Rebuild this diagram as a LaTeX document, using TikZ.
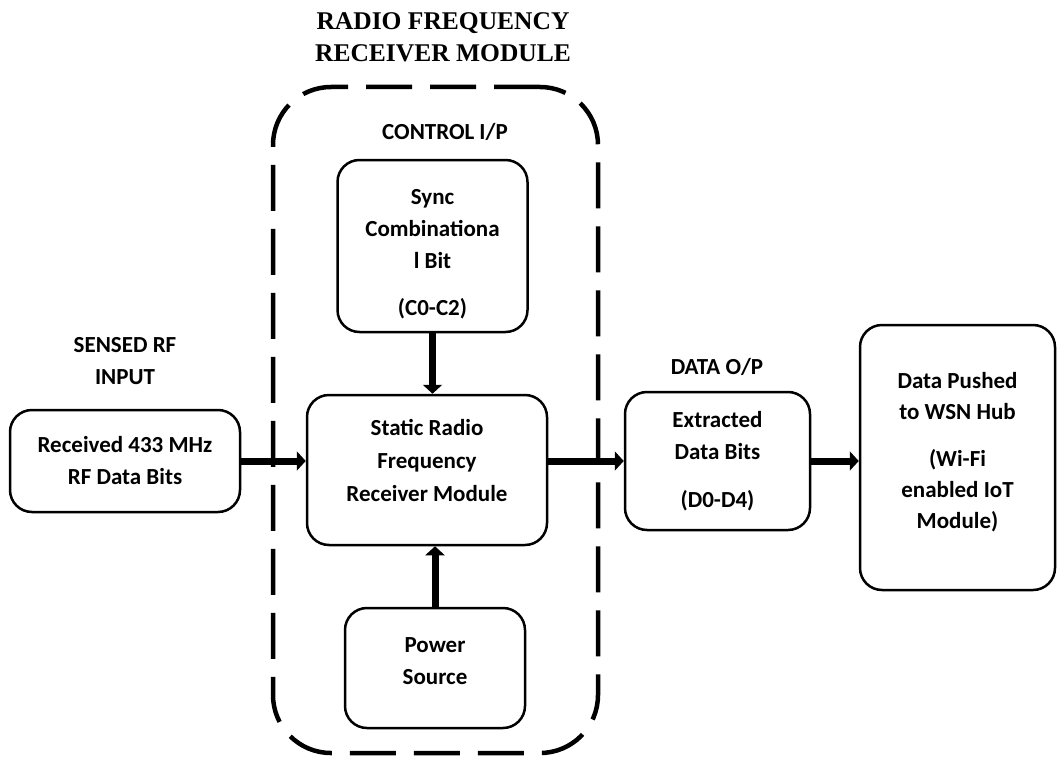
\documentclass[tikz,border=0pt]{standalone}
\usepackage{fontspec}
\setmainfont{Carlito}
\newfontfamily\titlefont{Liberation Serif}
\usetikzlibrary{arrows.meta}
\newcommand\boxfont{\fontsize{23}{32}\selectfont\bfseries}
\newcommand\bigtitle{\titlefont\fontsize{25.5}{32}\selectfont\bfseries}

\begin{document}
\begin{tikzpicture}[x=1pt,y=-1pt,
  blk/.style={draw,line width=2.5pt,rounded corners=22pt,align=center,font=\boxfont,inner sep=0pt},
  lbl/.style={align=center,font=\boxfont},
  arr/.style={line width=7pt,-{Triangle[length=9pt,width=19pt]}}]
\useasboundingbox (0,0) rectangle (1059,757);
\node [lbl,font=\bigtitle] (title) at (443,37) {RADIO FREQUENCY\\RECEIVER MODULE};
\node [draw,line width=4.5pt,dash pattern=on 46pt off 18pt,rounded corners=58pt,
  minimum width=325pt,minimum height=666pt] (rfmod) at (435.5,420) {};
\node [lbl] (ctrl) at (445,132) {CONTROL I/P};
\node [blk,minimum width=190pt,minimum height=172pt] (sync) at (432.5,246)
  {\rule{0pt}{32pt}Sync\\Combinationa\\l Bit\\[15pt](C0-C2)};
\node [blk,minimum width=240pt,minimum height=150pt] (static) at (427,470)
  {Static Radio\\[1pt]Frequency\\[1pt]Receiver Module\\[-12pt]};
\node [blk,minimum width=180pt,minimum height=120pt] (power) at (435,668)
  {Power\\Source\\[-18pt]};
\node [lbl] (sensed) at (125,361) {SENSED RF\\INPUT};
\node [blk,minimum width=230pt,minimum height=102pt] (rfin) at (125,461)
  {Received 433 MHz\\RF Data Bits};
\node [lbl] (dataop) at (717,367) {DATA O/P};
\node [blk,minimum width=185pt,minimum height=138pt] (ext) at (717.5,461)
  {Extracted\\Data Bits\\[16pt](D0-D4)};
\node [blk,minimum width=195pt,minimum height=265pt,font=\fontsize{23}{31}\selectfont\bfseries] (hub) at (957.5,457.5)
  {Data Pushed\\to WSN Hub\\[16pt](Wi-Fi\\enabled IoT\\Module)\\[-17pt]};
% links
\draw [arr] (sync.south) -- (sync.south |- static.north);
\draw [arr] (power.north) -- (power.north |- static.south);
\draw [arr] (rfin.east) -- (rfin.east -| static.west);
\draw [arr] (ext.west -| static.east) -- (ext.west);
\draw [arr] (ext.east) -- (ext.east -| hub.west);
\end{tikzpicture}
\end{document}
